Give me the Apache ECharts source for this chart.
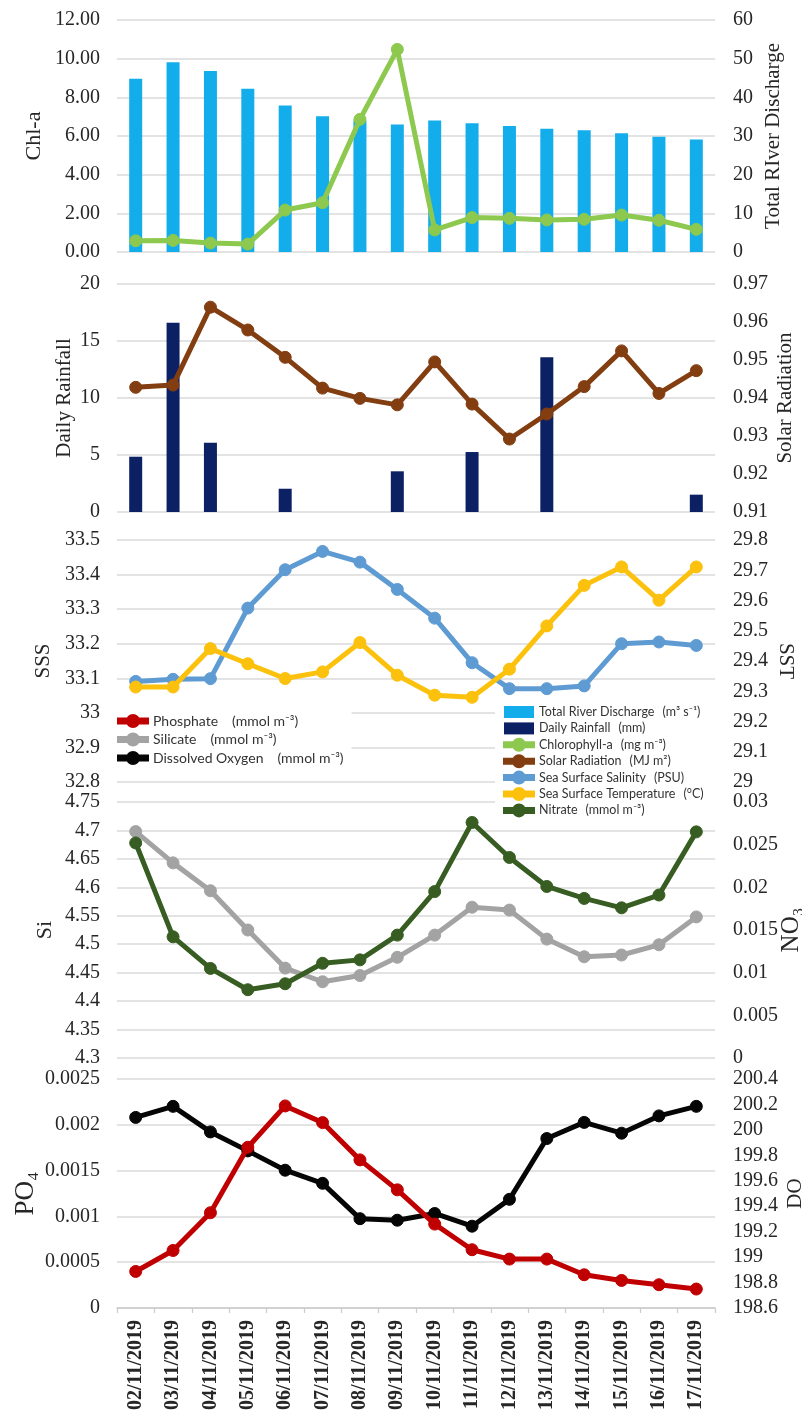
<!DOCTYPE html>
<html>
<head>
<meta charset="utf-8">
<script src="https://cdn.jsdelivr.net/npm/echarts@6/dist/echarts.min.js"></script>
<style>
  html, body { margin: 0; padding: 0; background: #fff; }
  #chart { width: 802px; height: 1414px; }
</style>
</head>
<body>
<div id="chart"></div>
<script>
// ---- data ----
const dates = ['02/11/2019', '03/11/2019', '04/11/2019', '05/11/2019', '06/11/2019', '07/11/2019',
  '08/11/2019', '09/11/2019', '10/11/2019', '11/11/2019', '12/11/2019', '13/11/2019',
  '14/11/2019', '15/11/2019', '16/11/2019', '17/11/2019'];

const riverDischarge = [44.8, 49.1, 46.8, 42.2, 37.9, 35.1, 34.0, 33.0, 34.0, 33.3, 32.6, 31.9, 31.5, 30.7, 29.8, 29.1];
const chlorophyll = [0.58, 0.60, 0.46, 0.41, 2.17, 2.55, 6.86, 10.48, 1.14, 1.78, 1.74, 1.66, 1.69, 1.91, 1.64, 1.17];
const dailyRainfall = [4.85, 16.6, 6.08, 0, 2.04, 0, 0, 3.57, 0, 5.26, 0, 13.57, 0, 0, 0, 1.52];
const solarRadiation = [0.9428, 0.9434, 0.9639, 0.9579, 0.9507, 0.9426, 0.9399, 0.9382, 0.9495, 0.9384, 0.9292, 0.9358, 0.9430, 0.9524, 0.9412, 0.9472];
const salinity = [33.091, 33.097, 33.099, 33.303, 33.414, 33.467, 33.436, 33.357, 33.274, 33.145, 33.070, 33.070, 33.078, 33.200, 33.205, 33.195];
const temperature = [29.314, 29.314, 29.441, 29.391, 29.342, 29.364, 29.461, 29.353, 29.287, 29.280, 29.373, 29.516, 29.650, 29.711, 29.601, 29.711];
const silicate = [4.698, 4.643, 4.594, 4.525, 4.458, 4.434, 4.445, 4.477, 4.516, 4.565, 4.560, 4.509, 4.478, 4.481, 4.499, 4.548];
const nitrate = [0.0252, 0.0142, 0.0105, 0.0080, 0.0087, 0.0111, 0.0115, 0.0144, 0.0195, 0.0276, 0.0235, 0.0201, 0.0187, 0.0176, 0.0191, 0.0265];
const phosphate = [0.000399, 0.000628, 0.00104, 0.001755, 0.002206, 0.002024, 0.001617, 0.00129, 0.000916, 0.000636, 0.000534, 0.000534, 0.000363, 0.000301, 0.000254, 0.000207];
const dissolvedOxygen = [200.098, 200.185, 199.984, 199.835, 199.683, 199.58, 199.302, 199.29, 199.343, 199.243, 199.454, 199.932, 200.059, 199.974, 200.11, 200.185];

// legend names and their units
const seriesNames = ['Total River Discharge', 'Daily Rainfall', 'Chlorophyll-a', 'Solar Radiation',
  'Sea Surface Salinity', 'Sea Surface Temperature', 'Nitrate', 'Phosphate', 'Silicate', 'Dissolved Oxygen'];
const seriesUnits = ['(m\u00B3 s\u207B\u00B9)', '(mm)', '(mg m\u207B\u00B3)', '(MJ m\u00B2)',
  '(PSU)', '(\u00B0C)', '(mmol m\u207B\u00B3)', '(mmol m\u207B\u00B3)', '(mmol m\u207B\u00B3)', '(mmol m\u207B\u00B3)'];

// axis titles
const leftTitles = ['Chl-a', 'Daily Rainfall', 'SSS', 'Si', 'PO\u2084'];
const rightTitles = ['Total RIver Discharge', 'Solar Radiation', 'SST', 'NO\u2083', 'DO'];

// ---- styling / layout ----
const SERIF = '"Liberation Serif", "Times New Roman", serif';
const SANS = 'Lato, "Open Sans", sans-serif';
const INK = '#262626';
const GRID_LINE = '#dadada';

// legend glyph for line series: a thick stroke with a round marker (30 x 12 box)
const LINE_ICON = 'path://M0,3.5L30,3.5L30,8.5L0,8.5Z M9,6A6,6 0 1,1 21,6A6,6 0 1,1 9,6Z';
const BAR_ICON = 'path://M1,-1.5L29,-1.5L29,13.5L1,13.5Z';

const panels = [
  { top: 20, height: 232 },
  { top: 284, height: 228 },
  { top: 540, height: 242 },
  { top: 802, height: 256 },
  { top: 1079, height: 229 }
];

const leftScales = [
  { min: 0, max: 12, interval: 2, fmt: v => v.toFixed(2), gap: 72, size: 22 },
  { min: 0, max: 20, interval: 5, gap: 42, size: 21 },
  { min: 32.8, max: 33.5, interval: 0.1, gap: 63, size: 21 },
  { min: 4.3, max: 4.75, interval: 0.05, gap: 61, size: 22 },
  { min: 0, max: 0.0025, interval: 0.0005, gap: 78, size: 27 }
];
const rightScales = [
  { min: 0, max: 60, interval: 10, gap: 48, size: 21 },
  { min: 0.91, max: 0.97, interval: 0.01, fmt: v => v.toFixed(2), gap: 60, size: 21 },
  { min: 29, max: 29.8, interval: 0.1, gap: 60, size: 21, rotate: -90 },
  { min: 0, max: 0.03, interval: 0.005, gap: 64, size: 25 },
  { min: 198.6, max: 200.4, interval: 0.2, gap: 70, size: 21 }
];

const grids = panels.map(p => ({ left: 117, right: 87, top: p.top, height: p.height, outerBoundsMode: 'none' }));

const xAxes = panels.map((p, i) => {
  const last = i === panels.length - 1;
  return {
    type: 'category', gridIndex: i, data: dates, boundaryGap: true,
    axisLine: { show: last, lineStyle: { color: '#cccccc', width: 1.5 } },
    axisTick: { show: last, length: 5, lineStyle: { color: '#cccccc', width: 1.2 } },
    axisLabel: {
      show: last, interval: 0, rotate: 90, margin: 12,
      fontFamily: SERIF, fontWeight: 'bold', fontSize: 20, color: INK
    },
    splitLine: { show: false }
  };
});

function valueAxis(i, s, title, side) {
  return {
    type: 'value', gridIndex: i, position: side,
    min: s.min, max: s.max, interval: s.interval,
    axisLine: { show: false }, axisTick: { show: false },
    splitLine: { show: side === 'left', lineStyle: { color: GRID_LINE, width: 1.5 } },
    axisLabel: {
      margin: side === 'left' ? 17 : 18, fontFamily: SERIF, fontSize: 20, color: INK,
      showMinLabel: true, showMaxLabel: true,
      formatter: s.fmt ? s.fmt : undefined
    },
    name: title, nameLocation: 'middle', nameGap: s.gap, nameMoveOverlap: false,
    nameRotate: s.rotate !== undefined ? s.rotate : 90,
    nameTextStyle: { fontFamily: SERIF, fontSize: s.size, color: INK }
  };
}

const yAxes = [];
panels.forEach((p, i) => {
  yAxes.push(valueAxis(i, leftScales[i], leftTitles[i], 'left'));
  yAxes.push(valueAxis(i, rightScales[i], rightTitles[i], 'right'));
});

function lineSeries(name, data, color, xi, yi, z) {
  return {
    type: 'line', name, data, xAxisIndex: xi, yAxisIndex: yi, z: z || 3,
    symbol: 'circle', symbolSize: 12, showSymbol: true,
    lineStyle: { color, width: 5 }, itemStyle: { color, borderColor: color, borderWidth: 1 },
    emphasis: { disabled: true }
  };
}
function barSeries(name, data, color, xi, yi) {
  return {
    type: 'bar', name, data, xAxisIndex: xi, yAxisIndex: yi, barWidth: 13, z: 2,
    itemStyle: { color }, emphasis: { disabled: true }
  };
}

const colors = {
  'Total River Discharge': '#12adea',
  'Daily Rainfall': '#0b2163',
  'Chlorophyll-a': '#8dc84f',
  'Solar Radiation': '#823d10',
  'Sea Surface Salinity': '#5f9bd3',
  'Sea Surface Temperature': '#fcc10c',
  'Nitrate': '#385d22',
  'Phosphate': '#c00000',
  'Silicate': '#a3a3a3',
  'Dissolved Oxygen': '#050505'
};

const series = [
  barSeries('Total River Discharge', riverDischarge, colors['Total River Discharge'], 0, 1),
  lineSeries('Chlorophyll-a', chlorophyll, colors['Chlorophyll-a'], 0, 0),
  barSeries('Daily Rainfall', dailyRainfall, colors['Daily Rainfall'], 1, 2),
  lineSeries('Solar Radiation', solarRadiation, colors['Solar Radiation'], 1, 3),
  lineSeries('Sea Surface Salinity', salinity, colors['Sea Surface Salinity'], 2, 4, 3),
  lineSeries('Sea Surface Temperature', temperature, colors['Sea Surface Temperature'], 2, 5, 4),
  lineSeries('Silicate', silicate, colors['Silicate'], 3, 6, 3),
  lineSeries('Nitrate', nitrate, colors['Nitrate'], 3, 7, 4),
  lineSeries('Dissolved Oxygen', dissolvedOxygen, colors['Dissolved Oxygen'], 4, 9, 3),
  lineSeries('Phosphate', phosphate, colors['Phosphate'], 4, 8, 4)
];

function unitOf(name) { return seriesUnits[seriesNames.indexOf(name)]; }
function legendItem(name) {
  const isBar = name === 'Total River Discharge' || name === 'Daily Rainfall';
  return { name, icon: isBar ? BAR_ICON : LINE_ICON };
}

const leftLegendNames = ['Phosphate', 'Silicate', 'Dissolved Oxygen'];
const rightLegendNames = ['Total River Discharge', 'Daily Rainfall', 'Chlorophyll-a', 'Solar Radiation',
  'Sea Surface Salinity', 'Sea Surface Temperature', 'Nitrate'];

function legendText(size, lh, unitGap) {
  const base = { fontFamily: SANS, fontSize: size, color: '#333', lineHeight: lh };
  return Object.assign({}, base, {
    rich: { n: Object.assign({}, base), u: Object.assign({}, base, { padding: [0, 0, 0, unitGap] }) }
  });
}

const legends = [
  {
    data: leftLegendNames.map(legendItem), orient: 'vertical', left: 113, top: 710,
    itemWidth: 30, itemHeight: 12, itemGap: 2.5, backgroundColor: '#fff', padding: [3, 8, 6, 4],
    selectedMode: false, symbolKeepAspect: false,
    formatter: n => '{n|' + n + '}{u|' + unitOf(n) + '}',
    textStyle: legendText(14, 16, 14)
  },
  {
    data: rightLegendNames.map(legendItem), orient: 'vertical', left: 495, top: 701,
    itemWidth: 30, itemHeight: 12, itemGap: 2.4, backgroundColor: '#fff', padding: [4, 12, 6, 8],
    selectedMode: false, symbolKeepAspect: false,
    formatter: n => '{n|' + n + '}{u|' + unitOf(n) + '}',
    textStyle: legendText(12.5, 14, 8)
  }
];

const chart = echarts.init(document.getElementById('chart'), null, { renderer: 'canvas' });
chart.setOption({
  animation: false,
  backgroundColor: '#fff',
  grid: grids,
  xAxis: xAxes,
  yAxis: yAxes,
  legend: legends,
  series
});
</script>
</body>
</html>
